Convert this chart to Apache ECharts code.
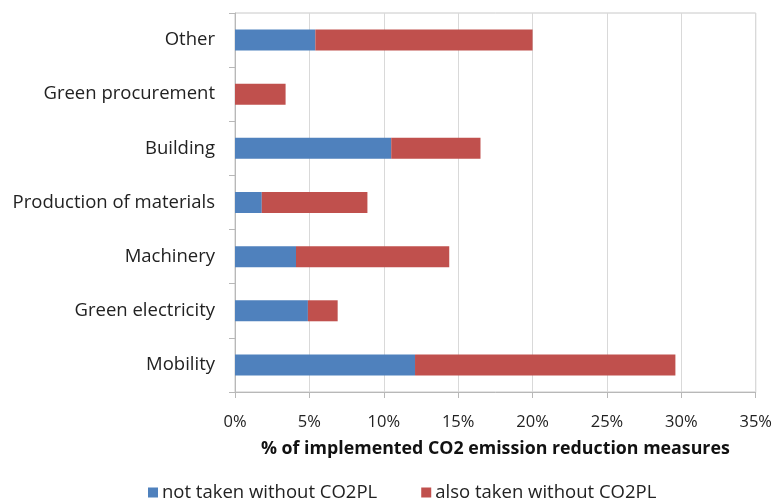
<!DOCTYPE html>
<html>
<head>
<meta charset="utf-8">
<script src="https://cdn.jsdelivr.net/npm/echarts@6/dist/echarts.min.js"></script>
<style>
html,body{margin:0;padding:0;background:#fff;}
#chart{width:775px;height:500px;}
</style>
</head>
<body>
<div id="chart"></div>
<script>
const categories = ["Mobility", "Green electricity", "Machinery", "Production of materials", "Building", "Green procurement", "Other"];
const notTaken = [12.1, 4.9, 4.1, 1.8, 10.5, 0, 5.4];
const alsoTaken = [17.5, 2.0, 10.3, 7.1, 6.0, 3.4, 14.6];
const seriesNames = ["not taken without CO2PL", "also taken without CO2PL"];
const xTicks = [0, 5, 10, 15, 20, 25, 30, 35];
const axisTitle = "% of implemented CO2 emission reduction measures";

const FONT = "Open Sans";
const chart = echarts.init(document.getElementById('chart'));
chart.setOption({
  animation: false,
  textStyle: { fontFamily: FONT },
  grid: { left: 235, right: 19, top: 13, height: 379, show: true, borderColor: '#c8c8c8', borderWidth: 1, containLabel: false },
  legend: {
    data: seriesNames,
    top: 478,
    left: 143,
    itemWidth: 10, itemHeight: 10, itemGap: 44,
    icon: 'rect',
    textStyle: { fontFamily: FONT, fontSize: 18.5, color: '#222', padding: [0, 0, 0, -1] }
  },
  xAxis: {
    type: 'value',
    min: xTicks[0], max: xTicks[xTicks.length - 1], interval: 5,
    axisLabel: { formatter: v => v + '%', fontSize: 16.5, color: '#222', margin: 22 },
    axisLine: { show: true, lineStyle: { color: '#b8b8b8' } },
    axisTick: { show: true, length: 6, lineStyle: { color: '#b8b8b8' } },
    splitLine: { show: true, lineStyle: { color: '#d9d9d9' } },
    name: axisTitle,
    nameLocation: 'middle',
    nameGap: 48,
    nameTextStyle: { fontFamily: FONT, fontSize: 17.8, fontWeight: 'bold', color: '#111' }
  },
  yAxis: {
    type: 'category',
    data: categories,
    axisLabel: { fontSize: 18.5, color: '#222', margin: 20 },
    axisLine: { show: true, lineStyle: { color: '#b8b8b8' } },
    axisTick: { show: true, length: 6, lineStyle: { color: '#b8b8b8' } },
    splitLine: { show: false }
  },
  series: [
    { name: seriesNames[0], type: 'bar', stack: 'total', data: notTaken, barWidth: 21, itemStyle: { color: '#4F81BD' } },
    { name: seriesNames[1], type: 'bar', stack: 'total', data: alsoTaken, barWidth: 21, itemStyle: { color: '#C0504D' } }
  ]
});
</script>
</body>
</html>
